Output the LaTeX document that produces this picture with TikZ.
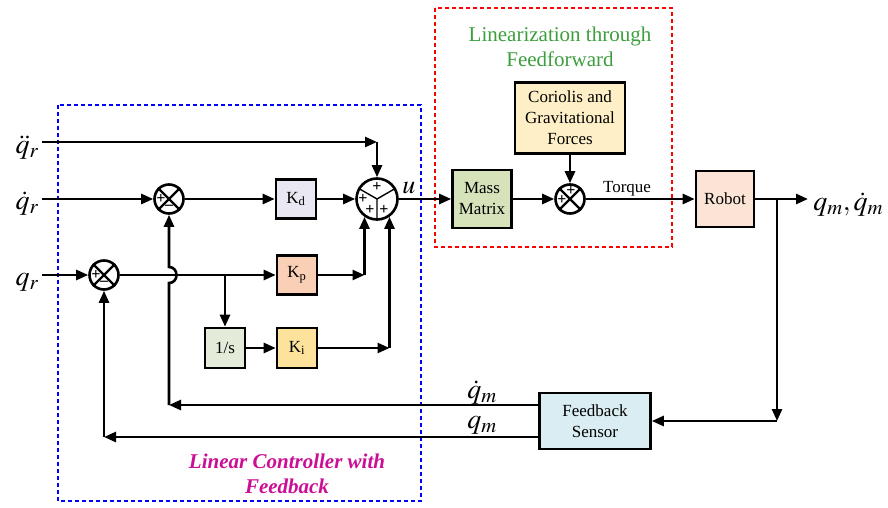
\documentclass[tikz,border=0pt]{standalone}
\usepackage{mathptmx}
\usepackage[no-math]{fontspec}
\setmainfont{Liberation Serif}
\usetikzlibrary{arrows.meta,calc}

\definecolor{kdfill}{HTML}{E9E7F1}
\definecolor{kpfill}{HTML}{F9D0B6}
\definecolor{intfill}{HTML}{E4ECD9}
\definecolor{kifill}{HTML}{FCE29B}
\definecolor{massfill}{HTML}{D5E2BA}
\definecolor{corfill}{HTML}{FEEFC6}
\definecolor{robfill}{HTML}{FBE4D6}
\definecolor{fbfill}{HTML}{DAEDF3}
\definecolor{titlegreen}{HTML}{3C9E3C}
\definecolor{ctrlmagenta}{HTML}{CC0E94}

\begin{document}
\begin{tikzpicture}[x=1pt, y=-1pt, line width=2.6pt,
  blk/.style={draw, minimum width=40pt, minimum height=39pt, inner sep=1pt,
    font=\fontsize{17}{21}\selectfont, align=center},
  sumx/.style={draw, circle, minimum size=29pt, inner sep=0pt},
  arr/.style={-{Triangle[length=12pt,width=10pt]}},
  sig/.style={font=\fontsize{16}{16}\selectfont\bfseries, inner sep=0pt},
  mlab/.style={font=\fontsize{28}{30}\selectfont, inner sep=0pt},
  grp/.style={line width=2.4pt, dash pattern=on 4pt off 3pt},
]
\useasboundingbox (0,0) rectangle (888,508);

% grouping frames
\draw[grp, blue] (58,105) rectangle (421,501);
\draw[grp, red] (435,8) rectangle (672,247);

% group titles
\node[text=titlegreen, font=\fontsize{21}{25}\selectfont, anchor=base, inner sep=0pt] (t1) at (560,42) {Linearization through};
\node[text=titlegreen, font=\fontsize{21}{25}\selectfont, anchor=base, inner sep=0pt] (t2) at (560,67) {Feedforward};
\node[text=ctrlmagenta, font=\fontsize{21}{25}\selectfont\bfseries\itshape, anchor=base, inner sep=0pt] (c1t) at (287,468) {Linear Controller with};
\node[text=ctrlmagenta, font=\fontsize{21}{25}\selectfont\bfseries\itshape, anchor=base, inner sep=0pt] (c2t) at (287,493) {Feedback};

% summing junctions
\node[sumx] (s1) at (169,199) {};
\node[sumx] (s0) at (104,275) {};
\node[sumx] (s2) at (570,199) {};
\node[draw, circle, minimum size=41pt, inner sep=0pt] (u) at (377,199) {};

% blocks
\node[blk, fill=kdfill] (kd) at (296,199) {K\textsubscript{d}};
\node[blk, fill=kpfill] (kp) at (297,275) {K\textsubscript{p}};
\node[blk, fill=intfill, minimum height=40pt] (int) at (225,348) {1/s};
\node[blk, fill=kifill, minimum height=40pt] (ki) at (297,348) {K\textsubscript{i}};
\node[blk, fill=massfill, minimum width=59pt, minimum height=58pt] (mass) at (482,199) {Mass\\Matrix};
\node[blk, fill=corfill, minimum width=110pt, minimum height=71pt] (cor) at (570,118) {Coriolis and\\Gravitational\\Forces};
\node[blk, fill=robfill, minimum width=58pt, minimum height=56pt] (rob) at (725,199) {Robot};
\node[blk, fill=fbfill, minimum width=111pt, minimum height=56pt] (fb) at (595,421) {Feedback\\Sensor};

% crosses and signs of the small junctions
\foreach \n in {s0,s1,s2} {
  \draw[line width=2.2pt] (\n.45) -- (\n.225) (\n.135) -- (\n.315);
}
\node[sig] at ($(s1)+(-8,0)$) {+};
\node[sig] at ($(s1)+(0,8)$) {–};
\node[sig] at ($(s0)+(-8,0)$) {+};
\node[sig] at ($(s0)+(0,8)$) {–};
\node[sig] at ($(s2)+(-8,1)$) {+};
\node[sig] at ($(s2)+(1,-8)$) {+};

% sectors and signs of the main junction
\draw[line width=1.4pt] (u.center) -- (u.30) (u.center) -- (u.150) (u.center) -- (u.270);
\node[sig] at ($(u)+(0,-12)$) {+};
\node[sig] at ($(u)+(-14,0)$) {+};
\node[sig] at ($(u)+(-7,11)$) {+};
\node[sig] at ($(u)+(7,11)$) {+};

% signal labels
\node[mlab, anchor=base east] (lqdd) at (40,153) {$\ddot{q}_r$};
\node[mlab, anchor=base east] (lqd) at (40,209) {$\dot{q}_r$};
\node[mlab, anchor=base east] (lq) at (40,285) {$q_r$};
\node[font=\fontsize{26}{28}\selectfont, anchor=base west, inner sep=0pt] (lu) at (401,193) {$u$};
\node[font=\fontsize{17}{21}\selectfont, anchor=base, inner sep=0pt] (ltq) at (627,192) {Torque};
\node[mlab, anchor=base west] (lout) at (812,210) {$q_m,\dot{q}_m$};
\node[mlab, anchor=base] (lqdm) at (482,398) {$\dot{q}_m$};
\node[mlab, anchor=base] (lqm) at (482,428) {$q_m$};

% connector end points
\coordinate (iqdd) at (42,142);
\coordinate (iqd) at (42,199);
\coordinate (iq) at (42,275);
\coordinate (cqdd) at (u.north |- iqdd);
\coordinate (br) at (int.north |- kp);
\coordinate (kpc) at (u.235 |- kp);
\coordinate (kic) at (u.305 |- ki);
\coordinate (out) at (808,199);
\coordinate (rb) at (777,199);
\coordinate (rc) at (rb |- fb.east);
\coordinate (fq1) at ($(fb.west)+(0,-16)$);
\coordinate (fq2) at ($(fb.west)+(0,16)$);
\coordinate (c1) at (s1.south |- fq1);
\coordinate (c0) at (s0.south |- fq2);
\coordinate (j) at (s1.south |- s0);

% forward path
\draw[arr] (iqdd) -- (cqdd);
\draw[arr] (cqdd) -- (u.north);
\draw[arr] (iqd) -- (s1.west);
\draw[arr] (s1.east) -- (kd.west);
\draw[arr] (kd.east) -- (u.west);
\draw[arr] (iq) -- (s0.west);
\draw[arr] (s0.east) -- (kp.west);
\draw[arr] (br) -- (int.north);
\draw[arr] (int.east) -- (ki.west);
\draw[arr] (kp.east) -- (kpc);
\draw[arr] (kpc) -- (u.235);
\draw[arr] (ki.east) -- (kic);
\draw[arr] (kic) -- (u.305);
\draw[arr] (u.east) -- (mass.west);
\draw[arr] (mass.east) -- (s2.west);
\draw[arr] (cor.south) -- (s2.north);
\draw[arr] (s2.east) -- (rob.west);
\draw[arr] (rob.east) -- (out);

% feedback path
\draw[arr] (rb) -- (rc);
\draw[arr] (rc) -- (fb.east);
\draw[arr] (fq1) -- (c1);
\draw[arr] (c1) -- ($(j)+(0,8)$) .. controls +(10,0) and +(10,0) .. ($(j)+(0,-8)$) -- (s1.south);
\draw[arr] (fq2) -- (c0);
\draw[arr] (c0) -- (s0.south);
\end{tikzpicture}
\end{document}
